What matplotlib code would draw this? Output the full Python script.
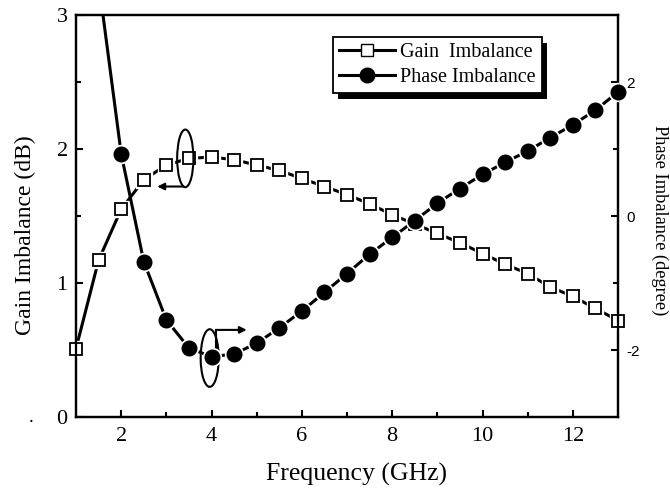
import matplotlib as mpl
mpl.use("Agg")
import matplotlib.pyplot as plt
from matplotlib.lines import Line2D
from matplotlib.patches import Ellipse, Rectangle
from matplotlib.transforms import IdentityTransform

mpl.rcParams['font.family'] = 'Liberation Serif'
mpl.rcParams['axes.unicode_minus'] = False

# data
freq = [1.0, 1.5, 2.0, 2.5, 3.0, 3.5, 4.0, 4.5, 5.0, 5.5, 6.0, 6.5, 7.0,
        7.5, 8.0, 8.5, 9.0, 9.5, 10.0, 10.5, 11.0, 11.5, 12.0, 12.5, 13.0]
gain = [0.51, 1.17, 1.55, 1.77, 1.88, 1.93, 1.94, 1.92, 1.88, 1.84, 1.78, 1.72, 1.66,
        1.59, 1.51, 1.44, 1.37, 1.30, 1.22, 1.14, 1.07, 0.97, 0.90, 0.81, 0.72]
phase = [6.0, 3.5, 0.93, -0.68, -1.55, -1.97, -2.10, -2.06, -1.90, -1.67, -1.42, -1.14, -0.86,
         -0.57, -0.32, -0.07, 0.19, 0.41, 0.62, 0.80, 0.97, 1.17, 1.36, 1.58, 1.85]

W, H = 670, 491
fig = plt.figure(figsize=(W / 100, H / 100), dpi=100)
ax1 = fig.add_axes([76 / W, (H - 417) / H, (618 - 76) / W, (417 - 15) / H])
ax2 = ax1.twinx()

# gain (left axis)
ax1.plot(freq, gain, color='k', lw=2.2, zorder=2)
ax1.plot(freq, gain, ls='None', marker='s', ms=12, mfc='white', mec='white', zorder=3)
ax1.plot(freq, gain, ls='None', marker='s', ms=9, mfc='white', mec='k', mew=1.3, zorder=4,
         clip_on=False)

# phase (right axis)
ax2.plot(freq, phase, color='k', lw=2.2, zorder=2)
ax2.plot(freq, phase, ls='None', marker='o', ms=13, mfc='white', mec='white', zorder=3)
ax2.plot(freq, phase, ls='None', marker='o', ms=10.5, mfc='k', mec='k', zorder=4,
         clip_on=False)

ax1.set_xlim(1, 13)
ax1.set_ylim(0, 3)
ax2.set_ylim(-3, 3)

ax1.set_xticks([2, 4, 6, 8, 10, 12])
ax1.set_xticks([3, 5, 7, 9, 11], minor=True)
ax1.set_yticks([0, 1, 2, 3])
ax1.set_yticks([0.5, 1.5, 2.5], minor=True)
ax2.set_yticks([-2, 0, 2])
ax2.set_yticks([-1, 1], minor=True)

ax1.tick_params(which='major', direction='in', length=5, width=1.5, labelsize=16)
ax1.tick_params(which='minor', direction='in', length=3.5, width=1.5)
ax1.tick_params(axis='x', pad=7)
ax1.tick_params(axis='y', pad=6)
ax2.tick_params(which='major', direction='in', length=5, width=1.5, pad=6)
ax2.tick_params(which='minor', direction='in', length=3.5, width=1.5)
for lab in ax2.get_yticklabels():
    lab.set_fontfamily('Liberation Sans')
    lab.set_fontsize(11)

for ax in (ax1, ax2):
    for sp in ax.spines.values():
        sp.set_linewidth(1.6)

# axis titles placed where the reference has them
fig.text(356 / W, 1 - 474 / H, 'Frequency (GHz)', fontsize=18.5, ha='center', va='center')
fig.text(25 / W, 1 - 235 / H, 'Gain Imbalance (dB)', fontsize=17, rotation=90,
         ha='center', va='center')
fig.text(660 / W, 1 - 220 / H, 'Phase Imbalance (degree)', fontsize=13.2, rotation=-90,
         ha='center', va='center')

# loops and arrows
ax1.add_patch(Ellipse((3.42, 1.93), 0.36, 0.43, fill=False, lw=1.5, color='k', zorder=5))
ax1.annotate('', xy=(2.8, 1.72), xytext=(3.38, 1.72),
             arrowprops=dict(arrowstyle='-|>', lw=1.5, color='k', mutation_scale=10,
                             shrinkA=0, shrinkB=0))
ax1.add_patch(Ellipse((3.96, 0.44), 0.40, 0.43, fill=False, lw=1.5, color='k', zorder=5))
ax1.plot([4.11, 4.11], [0.50, 0.65], color='k', lw=1.5)
ax1.annotate('', xy=(4.78, 0.65), xytext=(4.11, 0.65),
             arrowprops=dict(arrowstyle='-|>', lw=1.5, color='k', mutation_scale=10,
                             shrinkA=0, shrinkB=0))

fig.text(31 / W, (H - 417) / H, '.', fontsize=14, ha='center', va='center')

handles = [Line2D([], [], color='k', lw=2.2, marker='s', ms=9, mfc='white', mec='k'),
           Line2D([], [], color='k', lw=2.2, marker='o', ms=10.5, mfc='k', mec='k')]
leg = ax2.legend(handles, ['Gain  Imbalance', 'Phase Imbalance'], loc='upper left',
                 bbox_to_anchor=(0.474, 0.945), borderaxespad=0, fontsize=14.5,
                 fancybox=False, edgecolor='k', framealpha=1, handlelength=2.8,
                 handletextpad=0.25, labelspacing=0.3, borderpad=0.3)
leg.get_frame().set_linewidth(1.3)

# solid shadow behind the legend box
fig.canvas.draw()
bb = leg.get_window_extent()
ax2.add_patch(Rectangle((bb.x0 + 5, bb.y0 - 6), bb.width, bb.height, transform=IdentityTransform(),
                        facecolor='k', edgecolor='none', zorder=4.5, clip_on=False))

fig.savefig('out.png', dpi=100)
